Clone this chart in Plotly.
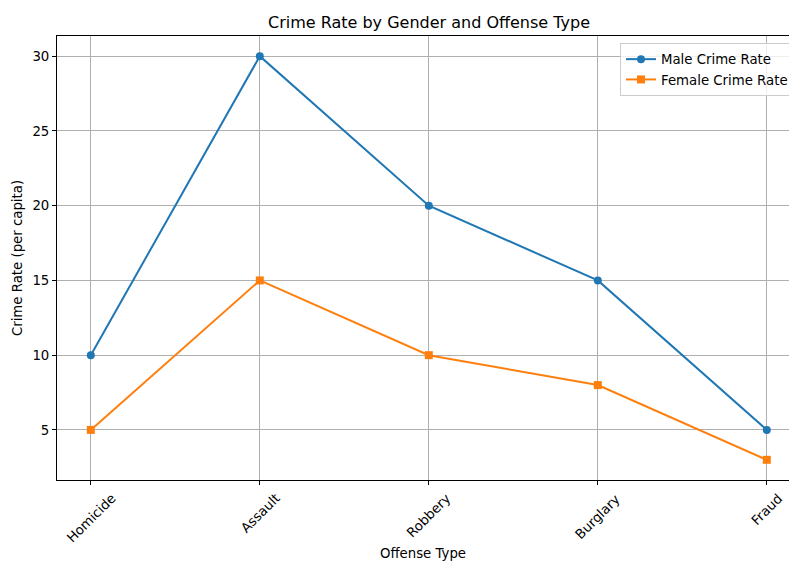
import plotly.graph_objects as go

offenses = ["Homicide", "Assault", "Robbery", "Burglary", "Fraud"]
male_rate = [10, 30, 20, 15, 5]
female_rate = [5, 15, 10, 8, 3]

W, H = 789, 561
L, R, T, B = 57, 0, 36, 81
FONT = "DejaVu Sans"
FS = 13.3

fig = go.Figure()
fig.add_trace(go.Scatter(
    x=list(range(len(offenses))), y=male_rate, mode="lines+markers",
    name="Male Crime Rate",
    line=dict(color="#1f77b4", width=2),
    marker=dict(symbol="circle", size=8, color="#1f77b4"),
))
fig.add_trace(go.Scatter(
    x=list(range(len(offenses))), y=female_rate, mode="lines+markers",
    name="Female Crime Rate",
    line=dict(color="#ff7f0e", width=2),
    marker=dict(symbol="square", size=8, color="#ff7f0e"),
))

# rotated category labels, centred under each tick (matplotlib style)
for i, name in enumerate(offenses):
    fig.add_annotation(x=i, xref="x", y=0, yref="paper", text=name, showarrow=False,
                       textangle=-45, xanchor="center", yanchor="top", yshift=-8,
                       font=dict(size=FS, family=FONT, color="black"))

px_per_cat = 169.0
x0 = -0.2
x1 = x0 + (W - L - R) / px_per_cat

fig.update_layout(
    width=W, height=H,
    margin=dict(l=L, r=R, t=T, b=B, pad=0, autoexpand=False),
    paper_bgcolor="white", plot_bgcolor="white",
    font=dict(family=FONT, size=FS, color="black"),
    title=dict(text="Crime Rate by Gender and Offense Type", x=429 / W, xref="container",
               xanchor="center", y=1 - 22 / H, yanchor="middle",
               font=dict(size=16, color="black")),
    showlegend=True,
    legend=dict(x=(620 - L) / (W - L - R), xanchor="left", y=1 - (43 - T) / (H - T - B), yanchor="top",
                bgcolor="rgba(255,255,255,0.8)", bordercolor="#cccccc", borderwidth=1,
                font=dict(size=FS), tracegroupgap=0),
    xaxis=dict(
        range=[x0, x1], tickmode="array", tickvals=list(range(len(offenses))),
        showticklabels=False,
        showgrid=True, gridcolor="#b0b0b0", gridwidth=1,
        showline=True, linecolor="black", linewidth=1, mirror=True,
        ticks="outside", ticklen=4, tickcolor="black", zeroline=False,
        title=dict(text="Offense Type", font=dict(size=FS), standoff=65),
    ),
    yaxis=dict(
        range=[1.65, 31.35], tickvals=[5, 10, 15, 20, 25, 30],
        showgrid=True, gridcolor="#b0b0b0", gridwidth=1,
        showline=True, linecolor="black", linewidth=1, mirror=False,
        ticks="outside", ticklen=4, tickcolor="black", zeroline=False,
        title=dict(text="Crime Rate (per capita)", font=dict(size=FS), standoff=6),
    ),
)

fig.write_html("out.html", config={"displayModeBar": False},
               post_script="document.body.style.margin='0';document.body.style.overflow='hidden';")
